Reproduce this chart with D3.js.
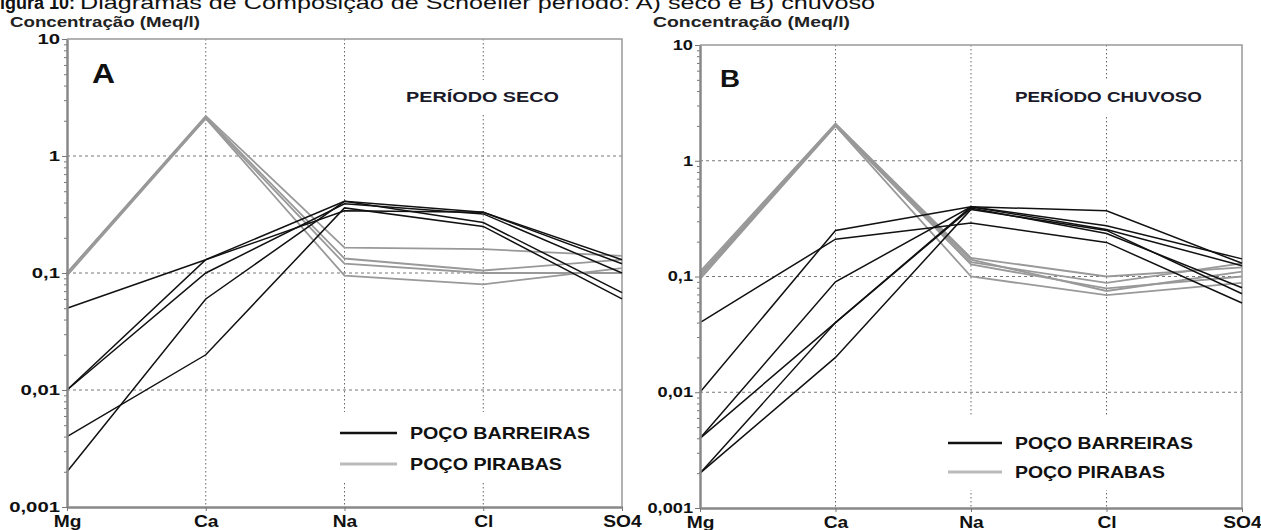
<!DOCTYPE html>
<html>
<head>
<meta charset="utf-8">
<script src="https://cdn.jsdelivr.net/npm/d3@7"></script>
<style>
  body { margin: 0; background: #fff; }
  svg text { font-family: "Liberation Sans", Arial, sans-serif; }
</style>
</head>
<body>
<svg id="chart" width="1261" height="530"></svg>
<script>
// ions on the x axis (Schoeller diagram)
const ions = ["Mg", "Ca", "Na", "Cl", "SO4"];
const yTickValues = [0.001, 0.01, 0.1, 1, 10];
const yTickLabels = ["0,001", "0,01", "0,1", "1", "10"];
const gridValues = [0.01, 0.1, 1];
const seriesNames = ["POÇO BARREIRAS", "POÇO PIRABAS"];

// A) período seco  (meq/l, read off the picture)
const secoBarreiras = [
  [0.05, 0.13, 0.34, 0.33, 0.13],
  [0.01, 0.13, 0.41, 0.33, 0.12],
  [0.01, 0.10, 0.39, 0.32, 0.10],
  [0.002, 0.06, 0.41, 0.27, 0.068],
  [0.004, 0.02, 0.36, 0.25, 0.06]
];
const secoPirabas = [
  [0.1, 2.2, 0.165, 0.16, 0.14],
  [0.1, 2.15, 0.133, 0.105, 0.13],
  [0.1, 2.1, 0.12, 0.1, 0.1],
  [0.095, 2.1, 0.095, 0.08, 0.11]
];

// B) período chuvoso
const chuvosoBarreiras = [
  [0.04, 0.21, 0.29, 0.197, 0.059],
  [0.01, 0.25, 0.40, 0.37, 0.13],
  [0.004, 0.09, 0.40, 0.275, 0.142],
  [0.004, 0.04, 0.40, 0.255, 0.124],
  [0.002, 0.04, 0.39, 0.235, 0.08],
  [0.002, 0.02, 0.38, 0.25, 0.071]
];
const chuvosoPirabas = [
  [0.11, 2.1, 0.145, 0.1, 0.12],
  [0.105, 2.05, 0.133, 0.088, 0.13],
  [0.1, 2.0, 0.127, 0.079, 0.1],
  [0.095, 2.0, 0.1, 0.069, 0.088],
  [0.1, 2.05, 0.14, 0.075, 0.11]
];

const svg = d3.select("#chart");

// the scanned figure is stretched sideways, so stretch text to match
function stretch(sel, k) {
  sel.each(function () {
    const len = this.getComputedTextLength();
    d3.select(this).attr("textLength", len * k).attr("lengthAdjust", "spacingAndGlyphs");
  });
}
function fitWidth(sel, w) {
  sel.attr("textLength", w).attr("lengthAdjust", "spacingAndGlyphs");
}

// caption (cut at the top in the original)
const cap = svg.append("text").attr("x", -11).attr("y", 9).attr("fill", "#111");
cap.append("tspan").attr("font-size", 18).attr("font-weight", "bold").text("Figura 10:");
cap.append("tspan").attr("font-size", 19).attr("dx", 5)
  .text("Diagramas de Composição de Schoeller período: A) seco e B) chuvoso")
  .call(fitWidth, 795);

const panels = [
  {
    left: 67, right: 622, top: 39, bottom: 507, tickK: 1.45,
    letter: "A", letterX: 92, letterY: 83, letterSize: 28, letterW: 23,
    period: "PERÍODO SECO", periodX: 406, periodY: 102, periodW: 153,
    titleX: 10, titleY: 27, titleW: 190,
    periodBox: [400, 80, 166, 33], legendBox: [334, 412, 266, 71],
    legX1: 340, legX2: 397, legY: 433, legDy: 31, legTextX: 410, legW: [180, 152],
    barreiras: secoBarreiras, pirabas: secoPirabas
  },
  {
    left: 700, right: 1242, top: 45, bottom: 508, tickK: 1.3,
    letter: "B", letterX: 720, letterY: 87, letterSize: 24, letterW: 20,
    period: "PERÍODO CHUVOSO", periodX: 1015, periodY: 102, periodW: 187,
    titleX: 653, titleY: 27, titleW: 197,
    periodBox: [1009, 80, 200, 35], legendBox: [942, 415, 258, 75],
    legX1: 948, legX2: 1002, legY: 443, legDy: 29, legTextX: 1015, legW: [178, 150],
    barreiras: chuvosoBarreiras, pirabas: chuvosoPirabas
  }
];

panels.forEach(p => {
  const x = d3.scalePoint().domain(ions).range([p.left, p.right]);
  const y = d3.scaleLog().domain([0.001, 10]).range([p.bottom, p.top]);
  const g = svg.append("g");

  // dotted grid
  g.selectAll(".vgrid").data(ions.slice(1, -1)).enter().append("line")
    .attr("x1", d => x(d)).attr("x2", d => x(d))
    .attr("y1", p.top).attr("y2", p.bottom)
    .attr("stroke", "#666").attr("stroke-width", 1).attr("stroke-dasharray", "1.5,2.5");
  g.selectAll(".hgrid").data(gridValues).enter().append("line")
    .attr("x1", p.left).attr("x2", p.right)
    .attr("y1", d => y(d)).attr("y2", d => y(d))
    .attr("stroke", "#777").attr("stroke-width", 1).attr("stroke-dasharray", "3,3");

  // white patches behind the labels
  [p.periodBox, p.legendBox].forEach(b => {
    g.append("rect").attr("x", b[0]).attr("y", b[1]).attr("width", b[2]).attr("height", b[3]).attr("fill", "#fff");
  });

  // frame top / right
  g.append("path")
    .attr("d", `M${p.left},${p.top}H${p.right}V${p.bottom}`)
    .attr("fill", "none").attr("stroke", "#999").attr("stroke-width", 1.5);

  const line = d3.line().x((d, i) => x(ions[i])).y(d => y(d));
  g.selectAll(".pir").data(p.pirabas).enter().append("path")
    .attr("d", line).attr("fill", "none").attr("stroke", "#999").attr("stroke-width", 1.8);
  g.selectAll(".bar").data(p.barreiras).enter().append("path")
    .attr("d", line).attr("fill", "none").attr("stroke", "#111").attr("stroke-width", 1.5);

  // y axis: minor then major ticks
  const minor = y.ticks().filter(v => Math.abs(Math.log10(v) - Math.round(Math.log10(v))) > 1e-6);
  g.append("g").attr("transform", `translate(${p.left},0)`)
    .call(d3.axisLeft(y).tickValues(minor).tickSize(3).tickFormat(""))
    .call(a => a.select(".domain").remove())
    .selectAll("line").attr("stroke", "#777");
  const yAx = g.append("g").attr("transform", `translate(${p.left},0)`)
    .call(d3.axisLeft(y).tickValues(yTickValues).tickFormat((d, i) => yTickLabels[i])
      .tickSize(5).tickSizeOuter(0).tickPadding(2));
  yAx.select(".domain").attr("stroke", "#888").attr("stroke-width", 2.5);
  yAx.selectAll("line").attr("stroke", "#777");
  yAx.selectAll("text").attr("font-size", 14).attr("font-weight", "bold").attr("fill", "#111")
    .attr("font-family", "Liberation Sans, Arial, sans-serif");
  stretch(yAx.selectAll("text"), p.tickK);

  // x axis
  const xAx = g.append("g").attr("transform", `translate(0,${p.bottom})`)
    .call(d3.axisBottom(x).tickSize(4).tickSizeOuter(0).tickPadding(5));
  xAx.select(".domain").attr("stroke", "#888").attr("stroke-width", 2.5);
  xAx.selectAll("line").attr("stroke", "#777");
  xAx.selectAll("text").attr("font-size", 16).attr("font-weight", "bold").attr("fill", "#111")
    .attr("font-family", "Liberation Sans, Arial, sans-serif");
  stretch(xAx.selectAll("text"), 1.2);

  // titles
  g.append("text").attr("x", p.titleX).attr("y", p.titleY)
    .attr("font-size", 15).attr("font-weight", "bold").attr("fill", "#222")
    .text("Concentração (Meq/l)").call(fitWidth, p.titleW);
  g.append("text").attr("x", p.letterX).attr("y", p.letterY)
    .attr("font-size", p.letterSize).attr("font-weight", "bold").attr("fill", "#111")
    .text(p.letter).call(fitWidth, p.letterW);
  g.append("text").attr("x", p.periodX).attr("y", p.periodY)
    .attr("font-size", 15).attr("font-weight", "bold").attr("fill", "#1a1a2a")
    .text(p.period).call(fitWidth, p.periodW);

  // legend
  const leg = g.selectAll(".leg").data(seriesNames).enter().append("g")
    .attr("transform", (d, i) => `translate(0,${p.legY + i * p.legDy})`);
  leg.append("line").attr("x1", p.legX1).attr("x2", p.legX2)
    .attr("stroke", (d, i) => i === 0 ? "#111" : "#bbb").attr("stroke-width", (d, i) => i === 0 ? 2.5 : 3);
  leg.append("text").attr("x", p.legTextX).attr("dy", "0.35em")
    .attr("font-size", 17).attr("font-weight", "bold").attr("fill", "#111")
    .text(d => d).each(function (d, i) { fitWidth(d3.select(this), p.legW[i]); });
});
</script>
</body>
</html>
